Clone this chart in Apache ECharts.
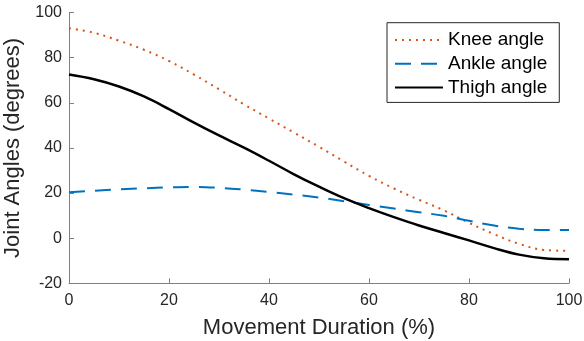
<!DOCTYPE html>
<html>
<head>
<meta charset="utf-8">
<script src="https://cdn.jsdelivr.net/npm/echarts@6/dist/echarts.min.js"></script>
<style>
  html, body { margin: 0; padding: 0; background: #fff; }
  #chart { width: 584px; height: 341px; }
</style>
</head>
<body>
<div id="chart"></div>
<script>
// movement duration (%) sample points
const progress = [0, 5, 10, 15, 20, 25, 30, 35, 40, 45, 50, 55, 60, 65, 70, 75, 80, 85, 90, 95, 100];
const knee = [93, 91, 87.5, 83.5, 78.5, 72.5, 66, 59.3, 53, 46.8, 40.5, 34, 27.6, 22, 17, 12.3, 6.8, 1.8, -2.5, -5.2, -5.6];
const ankle = [20.3, 21, 21.6, 22.1, 22.5, 22.7, 22.3, 21.5, 20.5, 19.3, 18, 16.4, 14.7, 13.1, 11.5, 9.9, 7.7, 5.6, 4.2, 3.6, 3.6];
const thigh = [72.5, 70.4, 67.2, 62.8, 57.2, 51.2, 45.5, 40.1, 34.3, 28.3, 22.8, 17.7, 13.3, 9.3, 5.6, 2.3, -1, -4.4, -7.3, -8.9, -9.3];
const xTicks = [0, 20, 40, 60, 80, 100];
const yTicks = [-20, 0, 20, 40, 60, 80, 100];

const FONT = "'Liberation Sans', Arial, sans-serif";
const TEXT = "#262626";
const AXIS = "#808080";

const pairs = (ys) => progress.map((x, i) => [x, ys[i]]);

const chart = echarts.init(document.getElementById("chart"), null, { renderer: "canvas" });

function axisBase(ticks) {
  return {
    type: "value",
    min: ticks[0],
    max: ticks[ticks.length - 1],
    interval: ticks[1] - ticks[0],
    axisLine: { show: true, onZero: false, lineStyle: { color: AXIS, width: 1 } },
    axisTick: { show: true, inside: true, length: 5, lineStyle: { color: AXIS } },
    splitLine: { show: false },
    axisLabel: { color: TEXT, fontSize: 16, fontFamily: FONT },
    nameLocation: "middle",
    nameTextStyle: { color: TEXT, fontSize: 22, fontFamily: FONT },
  };
}

const xAxis = axisBase(xTicks);
xAxis.name = "Movement Duration (%)";
xAxis.nameGap = 34;
xAxis.axisLabel.margin = 9;

const yAxis = axisBase(yTicks);
yAxis.name = "Joint Angles (degrees)";
yAxis.nameGap = 38;
yAxis.axisLabel.margin = 7;

chart.setOption({
  animation: false,
  backgroundColor: "#fff",
  grid: { left: 69, right: 15, top: 12.5, bottom: 57.7, containLabel: false, outerBoundsMode: "none" },
  xAxis: xAxis,
  yAxis: yAxis,
  legend: {
    orient: "vertical",
    left: 387,
    top: 22.7,
    padding: [7.8, 12, 5.5, 7],
    itemWidth: 48,
    itemHeight: 19,
    itemGap: 4.7,
    borderColor: "#262626",
    borderWidth: 1,
    backgroundColor: "#fff",
    itemStyle: { color: "rgba(0,0,0,0)", borderWidth: 0 },
    textStyle: { color: "#000", fontSize: 19, fontFamily: FONT, lineHeight: 19 },
    data: ["Knee angle", "Ankle angle", "Thigh angle"],
  },
  series: [
    {
      name: "Knee angle",
      type: "line",
      data: pairs(knee),
      smooth: 0.4,
      symbol: "none",
      lineStyle: { color: "#D95319", width: 2, type: [2, 5] },
      itemStyle: { color: "#D95319" },
    },
    {
      name: "Ankle angle",
      type: "line",
      data: pairs(ankle),
      smooth: 0.4,
      symbol: "none",
      lineStyle: { color: "#0072BD", width: 2, type: [16, 10] },
      itemStyle: { color: "#0072BD" },
    },
    {
      name: "Thigh angle",
      type: "line",
      data: pairs(thigh),
      smooth: 0.4,
      symbol: "none",
      lineStyle: { color: "#000", width: 2.5 },
      itemStyle: { color: "#000" },
    },
  ],
});
</script>
</body>
</html>
